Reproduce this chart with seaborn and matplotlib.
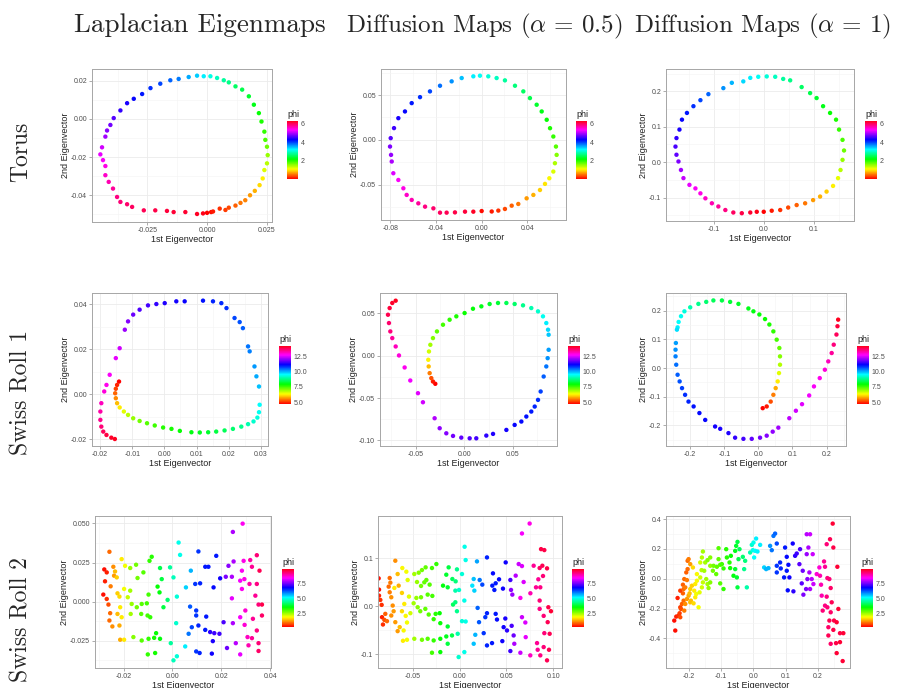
import matplotlib
matplotlib.use("Agg")
import numpy as np
import pandas as pd
import matplotlib.pyplot as plt
import seaborn as sns
from matplotlib.ticker import AutoMinorLocator, FixedLocator, FormatStrFormatter
from matplotlib.colors import Normalize
from matplotlib.cm import ScalarMappable

# ======================================================
# DATA  (x = 1st eigenvector, y = 2nd eigenvector, phi)
# ======================================================

torus_le = [
    (-0.0042, -0.0498, 6.2), (-0.0017, -0.0495, 6.25), (0.0, -0.0492, 0.05), (0.0017, -0.0488, 0.1),
    (0.0025, -0.0485, 0.15), (0.0053, -0.047, 0.25), (0.0077, -0.0477, 0.3), (0.0091, -0.0465, 0.35),
    (0.0119, -0.0454, 0.45), (0.014, -0.044, 0.55), (0.016, -0.0426, 0.6), (0.018, -0.040, 0.7),
    (0.020, -0.0377, 0.8), (0.022, -0.0347, 0.95), (0.0233, -0.0312, 1.05), (0.024, -0.0268, 1.25),
    (0.0251, -0.0233, 1.4), (0.0254, -0.019, 1.55), (0.0251, -0.0146, 1.7), (0.0244, -0.011, 1.85),
    (0.024, -0.0067, 1.95), (0.0228, -0.0014, 2.05), (0.0217, 0.003, 2.15), (0.0196, 0.0074, 2.25),
    (0.0175, 0.0118, 2.35), (0.0147, 0.0153, 2.45), (0.0119, 0.017, 2.55), (0.0091, 0.0191, 2.7),
    (0.007, 0.0202, 2.8), (0.0042, 0.0214, 2.95), (0.0014, 0.0223, 3.1), (-0.0014, 0.0223, 3.25),
    (-0.0042, 0.0226, 3.4), (-0.0077, 0.0219, 3.55), (-0.0119, 0.0209, 3.75), (-0.0154, 0.0202, 3.85),
    (-0.0196, 0.0184, 3.95), (-0.0237, 0.0161, 4.05), (-0.0272, 0.013, 4.15), (-0.0307, 0.0105, 4.25),
    (-0.0335, 0.0082, 4.35), (-0.0363, 0.0044, 4.45), (-0.0391, 0.0004, 4.6), (-0.0405, -0.0032, 4.7),
    (-0.0419, -0.0061, 4.8), (-0.0426, -0.0093, 4.9), (-0.044, -0.0149, 5.1), (-0.0447, -0.0186, 5.2),
    (-0.0436, -0.0216, 5.3), (-0.0426, -0.0247, 5.4), (-0.0426, -0.0295, 5.5), (-0.0412, -0.033, 5.6),
    (-0.0394, -0.0365, 5.7), (-0.0377, -0.0409, 5.8), (-0.0363, -0.0435, 5.85), (-0.0335, -0.0447, 5.9),
    (-0.0314, -0.0461, 5.95), (-0.0265, -0.0479, 6.0), (-0.0217, -0.0479, 6.05), (-0.0168, -0.0482, 6.1),
    (-0.014, -0.0488, 6.12), (-0.0091, -0.0488, 6.15),
]

torus_dm05 = [
    (0.0, -0.0795, 0.1), (0.0088, -0.080, 0.15), (0.0146, -0.079, 0.25), (0.0204, -0.0772, 0.35),
    (0.0263, -0.0735, 0.45), (0.0321, -0.0716, 0.55), (0.0394, -0.0653, 0.7), (0.0453, -0.0615, 0.8),
    (0.0511, -0.056, 0.9), (0.0555, -0.0492, 1.0), (0.0593, -0.0429, 1.1), (0.0628, -0.0354, 1.25),
    (0.0642, -0.0261, 1.45), (0.0657, -0.0168, 1.6), (0.0651, -0.0075, 1.8), (0.0628, 0.0037, 1.95),
    (0.0599, 0.013, 2.05), (0.057, 0.0224, 2.15), (0.0526, 0.0317, 2.25), (0.0482, 0.0392, 2.35),
    (0.0423, 0.0466, 2.45), (0.0365, 0.0541, 2.55), (0.0292, 0.0604, 2.65), (0.0204, 0.0664, 2.8),
    (0.0131, 0.069, 2.95), (0.0058, 0.0709, 3.05), (-0.0015, 0.0716, 3.15), (-0.0073, 0.0709, 3.25),
    (-0.0175, 0.069, 3.45), (-0.0263, 0.0653, 3.65), (-0.0365, 0.0604, 3.8), (-0.0453, 0.0541, 3.95),
    (-0.054, 0.0477, 4.05), (-0.0613, 0.041, 4.15), (-0.0672, 0.0317, 4.25), (-0.073, 0.0242, 4.35),
    (-0.0768, 0.0131, 4.5), (-0.0797, 0.0019, 4.6), (-0.0803, -0.0075, 4.75), (-0.0794, -0.0168, 4.85),
    (-0.0788, -0.0242, 4.95), (-0.0774, -0.0373, 5.15), (-0.073, -0.0448, 5.3), (-0.0686, -0.0541, 5.4),
    (-0.0657, -0.0615, 5.5), (-0.0613, -0.0671, 5.6), (-0.0555, -0.0709, 5.7), (-0.0496, -0.0746, 5.8),
    (-0.0423, -0.0765, 5.9), (-0.0365, -0.0813, 5.95), (-0.0307, -0.0813, 6.0), (-0.0234, -0.081, 6.05),
    (-0.0146, -0.0802, 6.1), (-0.0073, -0.0802, 6.2),
]

torus_dm1 = [
    (0.0, -0.14, 0.05), (0.016, -0.137, 0.15), (0.033, -0.135, 0.25), (0.049, -0.128, 0.35),
    (0.066, -0.121, 0.45), (0.083, -0.116, 0.55), (0.099, -0.107, 0.7), (0.113, -0.097, 0.8),
    (0.126, -0.083, 0.9), (0.139, -0.067, 1.05), (0.149, -0.045, 1.2), (0.154, -0.022, 1.4),
    (0.158, 0.0066, 1.55), (0.161, 0.033, 1.7), (0.158, 0.063, 1.85), (0.151, 0.092, 1.95),
    (0.145, 0.12, 2.05), (0.133, 0.139, 2.15), (0.119, 0.158, 2.25), (0.106, 0.181, 2.35),
    (0.093, 0.195, 2.45), (0.076, 0.212, 2.55), (0.053, 0.231, 2.7), (0.039, 0.235, 2.8),
    (0.023, 0.241, 2.95), (0.006, 0.242, 3.05), (-0.011, 0.241, 3.15), (-0.027, 0.238, 3.25),
    (-0.041, 0.228, 3.35), (-0.064, 0.224, 3.5), (-0.081, 0.209, 3.65), (-0.111, 0.192, 3.85),
    (-0.127, 0.175, 3.95), (-0.141, 0.158, 4.05), (-0.154, 0.139, 4.15), (-0.164, 0.12, 4.25),
    (-0.169, 0.092, 4.35), (-0.175, 0.068, 4.45), (-0.177, 0.044, 4.55), (-0.175, 0.021, 4.65),
    (-0.171, 0.002, 4.75), (-0.166, -0.022, 4.9), (-0.161, -0.045, 5.05), (-0.149, -0.064, 5.2),
    (-0.137, -0.074, 5.3), (-0.127, -0.088, 5.4), (-0.117, -0.102, 5.5), (-0.104, -0.116, 5.6),
    (-0.091, -0.125, 5.7), (-0.077, -0.135, 5.8), (-0.061, -0.142, 5.95), (-0.044, -0.144, 6.05),
    (-0.027, -0.142, 6.15), (-0.014, -0.14, 6.25),
]

roll1_le = [
    (-0.0141, 0.0056, 4.75), (-0.0147, 0.0041, 4.95), (-0.0151, 0.0024, 5.15), (-0.0153, 0.0004, 5.35),
    (-0.0151, -0.0018, 5.6), (-0.0147, -0.004, 5.9), (-0.0139, -0.0059, 6.2), (-0.0126, -0.0077, 6.5),
    (-0.0113, -0.0092, 6.75), (-0.0097, -0.0107, 7.0), (-0.0077, -0.0119, 7.2), (-0.0054, -0.0129, 7.4),
    (-0.003, -0.0139, 7.55), (-0.0004, -0.0148, 7.7), (0.0022, -0.0154, 7.8), (0.0048, -0.0163, 7.9),
    (0.0084, -0.0169, 8.0), (0.011, -0.017, 8.1), (0.0136, -0.0169, 8.2), (0.0161, -0.0166, 8.3),
    (0.0187, -0.0161, 8.45), (0.0213, -0.0154, 8.6), (0.0239, -0.0144, 8.8), (0.026, -0.0133, 9.0),
    (0.0277, -0.0121, 9.2), (0.0289, -0.0104, 9.3), (0.0294, -0.008, 9.4), (0.0296, -0.0047, 9.5),
    (0.0294, 0.0034, 9.9), (0.0286, 0.0079, 10.05), (0.028, 0.0123, 10.15), (0.0265, 0.019, 10.3),
    (0.026, 0.0212, 10.35), (0.0244, 0.0293, 10.5), (0.0234, 0.032, 10.6), (0.0218, 0.0338, 10.65),
    (0.0193, 0.0382, 10.8), (0.0177, 0.0404, 10.85), (0.0151, 0.0412, 10.9), (0.012, 0.0415, 11.0),
    (0.0063, 0.0412, 11.15), (0.0037, 0.0412, 11.2), (0.0001, 0.0404, 11.3), (-0.0025, 0.04, 11.4),
    (-0.0051, 0.0394, 11.5), (-0.0077, 0.0375, 11.6), (-0.0097, 0.0353, 11.75), (-0.0113, 0.0323, 11.9),
    (-0.0123, 0.0286, 12.05), (-0.0139, 0.0204, 12.4), (-0.0151, 0.016, 12.55), (-0.017, 0.0086, 12.7),
    (-0.018, 0.0041, 12.8), (-0.0187, 0.0012, 12.9), (-0.0196, -0.004, 13.1), (-0.0199, -0.0077, 13.25),
    (-0.0199, -0.0114, 13.4), (-0.0196, -0.0144, 13.55), (-0.019, -0.0166, 13.7), (-0.018, -0.0181, 13.85),
    (-0.0165, -0.0193, 14.0), (-0.0154, -0.0199, 14.1),
]

roll1_dm05 = [
    (-0.0298, -0.0331, 4.75), (-0.0322, -0.0304, 4.9), (-0.0339, -0.0264, 5.2), (-0.0356, -0.0205, 5.5),
    (-0.0366, -0.0126, 5.9), (-0.037, -0.0047, 6.3), (-0.0363, 0.0051, 6.6), (-0.0349, 0.013, 6.9),
    (-0.0322, 0.0209, 7.1), (-0.0281, 0.0288, 7.3), (-0.0219, 0.0367, 7.5), (-0.0151, 0.0426, 7.65),
    (-0.0082, 0.0466, 7.75), (0.0003, 0.0505, 7.85), (0.0089, 0.0556, 7.95), (0.0175, 0.0584, 8.05),
    (0.026, 0.0612, 8.15), (0.0346, 0.0624, 8.25), (0.0432, 0.0624, 8.4), (0.0517, 0.0612, 8.55),
    (0.0603, 0.0596, 8.8), (0.0688, 0.0564, 9.0), (0.0757, 0.0525, 9.2), (0.0808, 0.0466, 9.4),
    (0.0842, 0.0387, 9.6), (0.086, 0.0308, 9.75), (0.0866, 0.0249, 9.85), (0.0866, 0.0071, 10.1),
    (0.0856, -0.0028, 10.2), (0.0842, -0.0126, 10.35), (0.0815, -0.0245, 10.5), (0.0784, -0.0422, 10.7),
    (0.0757, -0.0521, 10.8), (0.0723, -0.06, 10.9), (0.0688, -0.0659, 10.95), (0.0637, -0.0718, 11.0),
    (0.0586, -0.0777, 11.05), (0.0517, -0.0817, 11.1), (0.0432, -0.0876, 11.2), (0.0295, -0.0923, 11.3),
    (0.0226, -0.0943, 11.35), (0.0123, -0.0975, 11.5), (0.0055, -0.0975, 11.6), (-0.0031, -0.0967, 11.7),
    (-0.0116, -0.0947, 11.8), (-0.0185, -0.0916, 11.9), (-0.0253, -0.0856, 12.0), (-0.0305, -0.0738, 12.2),
    (-0.0425, -0.0549, 12.4), (-0.0476, -0.0442, 12.5), (-0.0555, -0.0292, 12.6), (-0.0613, -0.0138, 12.75),
    (-0.0671, 0.0004, 12.9), (-0.0705, 0.011, 13.1), (-0.074, 0.0209, 13.3), (-0.076, 0.0288, 13.5),
    (-0.0774, 0.0387, 13.6), (-0.0784, 0.0485, 13.8), (-0.0767, 0.0564, 13.9), (-0.074, 0.0624, 14.0),
    (-0.0705, 0.0651, 14.1),
]

roll1_dm1 = [
    (0.0127, -0.14, 4.75), (0.0244, -0.134, 4.9), (0.0361, -0.117, 5.2), (0.0439, -0.0933, 5.5),
    (0.0507, -0.07, 5.8), (0.0566, -0.0466, 6.2), (0.0605, -0.0175, 6.5), (0.0634, 0.0117, 6.8),
    (0.0634, 0.0408, 7.1), (0.0615, 0.07, 7.3), (0.0537, 0.0991, 7.5), (0.0439, 0.128, 7.65),
    (0.0322, 0.152, 7.75), (0.0195, 0.171, 7.85), (0.0029, 0.187, 7.95), (-0.0146, 0.198, 8.0),
    (-0.0293, 0.208, 8.05), (-0.0585, 0.224, 8.15), (-0.0829, 0.231, 8.25), (-0.107, 0.236, 8.35),
    (-0.132, 0.236, 8.45), (-0.153, 0.231, 8.6), (-0.176, 0.224, 8.8), (-0.2, 0.212, 9.0),
    (-0.217, 0.198, 9.3), (-0.227, 0.181, 9.4), (-0.234, 0.161, 9.5), (-0.237, 0.142, 9.6),
    (-0.239, 0.134, 9.7), (-0.242, 0.0875, 10.1), (-0.243, 0.0641, 10.2), (-0.243, 0.0408, 10.3),
    (-0.241, 0.0117, 10.4), (-0.237, -0.0233, 10.5), (-0.231, -0.0466, 10.6), (-0.224, -0.07, 10.7),
    (-0.215, -0.0933, 10.8), (-0.205, -0.117, 10.9), (-0.19, -0.134, 11.0), (-0.173, -0.157, 11.05),
    (-0.156, -0.181, 11.1), (-0.127, -0.204, 11.2), (-0.112, -0.212, 11.25), (-0.0878, -0.227, 11.3),
    (-0.0683, -0.243, 11.4), (-0.0439, -0.247, 11.5), (-0.0195, -0.247, 11.7), (0.0049, -0.243, 11.8),
    (0.0244, -0.236, 11.9), (0.042, -0.222, 12.0), (0.0585, -0.208, 12.1), (0.0907, -0.175, 12.3),
    (0.11, -0.149, 12.4), (0.128, -0.126, 12.5), (0.149, -0.0956, 12.6), (0.163, -0.0641, 12.7),
    (0.18, -0.035, 12.8), (0.195, -0.0058, 12.9), (0.205, 0.0233, 13.1), (0.215, 0.0525, 13.3),
    (0.221, 0.0816, 13.5), (0.229, 0.117, 13.7), (0.232, 0.146, 13.9), (0.234, 0.169, 14.1),
]

roll2_le = [
    (-0.0279, 0.0206, 0.4), (-0.0269, 0.0187, 0.5), (-0.0276, 0.0130, 0.5), (-0.0283, 0.0045, 0.4),
    (-0.0269, 0.0017, 0.6), (-0.0262, -0.0019, 0.8), (-0.0255, -0.0074, 1.0), (-0.0258, -0.0121, 1.0),
    (-0.0246, -0.0159, 1.2), (-0.0258, 0.0319, 1.0), (-0.0253, 0.0098, 1.1), (-0.0242, 0.0223, 1.2),
    (-0.0239, 0.0166, 1.3), (-0.0235, 0.0193, 1.5), (-0.0228, 0.0155, 1.6), (-0.0225, 0.0053, 1.6),
    (-0.0217, 0.0032, 1.7), (-0.0214, -0.0036, 1.8), (-0.0225, -0.0079, 1.5), (-0.0208, -0.0100, 1.8),
    (-0.0217, -0.0153, 1.4), (-0.0214, -0.0244, 1.4), (-0.0198, -0.0244, 1.8), (-0.0208, 0.0272, 1.8),
    (-0.0194, 0.0229, 2.0), (-0.0198, 0.0081, 2.0), (-0.0173, 0.0215, 2.6), (-0.0149, 0.0236, 2.8),
    (-0.0143, 0.0151, 2.8), (-0.0173, 0.0070, 2.5), (-0.0183, 0.0028, 2.3), (-0.0167, -0.0015, 2.6),
    (-0.0171, -0.0079, 2.5), (-0.0146, -0.0036, 2.8), (-0.0126, -0.0015, 3.0), (-0.0128, -0.0079, 3.0),
    (-0.0102, -0.0089, 3.1), (-0.0091, -0.0100, 3.2), (-0.0105, -0.0011, 3.1), (-0.0098, 0.0045, 3.1),
    (-0.0119, 0.0187, 3.0), (-0.0094, 0.0261, 3.2), (-0.0085, 0.0287, 3.3), (-0.0160, -0.0227, 2.7),
    (-0.0126, -0.0249, 3.0), (-0.0098, -0.0238, 3.2), (-0.0075, -0.0232, 3.4), (-0.0051, -0.0238, 3.6),
    (-0.0067, -0.0202, 3.5), (-0.0101, -0.0338, 3.2), (-0.0071, -0.0329, 3.4), (-0.0053, 0.0059, 3.6),
    (-0.0061, 0.0096, 3.5), (-0.0044, 0.0144, 3.9), (-0.0051, 0.0215, 4.0), (-0.0037, -0.0036, 3.9),
    (-0.0020, 0.0011, 4.2), (-0.0010, 0.0219, 4.5), (0.0004, 0.0155, 4.7), (0.0025, 0.0378, 5.0),
    (0.0031, 0.0299, 5.0), (0.0018, 0.0032, 4.9), (0.0015, -0.0138, 4.8), (-0.0007, -0.0266, 4.5),
    (0.0004, -0.0376, 4.7), (0.0018, -0.0350, 4.9), (0.0052, -0.0287, 5.2), (0.0055, 0.0091, 5.4),
    (0.0075, 0.0198, 5.6), (0.0106, 0.0321, 6.4), (0.0093, 0.0113, 6.4), (0.0113, 0.0117, 6.5),
    (0.0134, 0.0223, 6.6), (0.0147, 0.0223, 6.6), (0.0168, 0.0091, 6.7), (0.0179, 0.0293, 6.6),
    (0.0195, 0.0149, 6.8), (0.0072, -0.0032, 6.2), (0.0097, -0.0057, 6.4), (0.0097, -0.0089, 6.4),
    (0.0106, -0.0153, 6.5), (0.0079, -0.0164, 6.3), (0.0066, -0.0206, 6.0), (0.0134, -0.0181, 6.6),
    (0.0138, -0.0096, 6.6), (0.0154, -0.0195, 7.0), (0.0171, -0.0202, 7.1), (0.0192, -0.0206, 7.1),
    (0.0165, -0.0253, 6.9), (0.0161, -0.0333, 6.8), (0.0097, -0.0319, 6.4), (0.0111, -0.0329, 6.5),
    (0.0209, -0.0132, 7.2), (0.0223, -0.0297, 7.4), (0.0218, 0.0159, 7.5), (0.0229, 0.0229, 7.6),
    (0.0250, 0.0257, 7.8), (0.0243, 0.0159, 7.8), (0.0247, 0.0446, 7.8), (0.0247, -0.0138, 7.8),
    (0.0259, -0.0266, 7.9), (0.0277, -0.0338, 8.2), (0.0243, 0.0021, 8.2), (0.0287, 0.0499, 8.4),
    (0.0291, 0.0261, 8.5), (0.0284, 0.0198, 8.4), (0.0294, 0.0144, 8.5), (0.0277, 0.0134, 8.3),
    (0.0284, 0.0081, 8.4), (0.0318, 0.0266, 8.9), (0.0345, 0.0297, 9.2), (0.0325, 0.0223, 9.0),
    (0.0356, 0.0198, 9.4), (0.0315, 0.0113, 8.9), (0.0345, 0.0113, 9.1), (0.0339, 0.0038, 9.0),
    (0.0366, -0.0019, 9.5), (0.0352, -0.0019, 9.2), (0.0329, -0.0110, 9.0), (0.0366, -0.0089, 9.3),
    (0.0298, -0.0057, 8.6), (0.0277, -0.0100, 8.3), (0.0345, -0.0185, 9.1), (0.0325, -0.0234, 9.0),
    (0.0352, -0.0266, 9.2), (0.0352, -0.0316, 9.3), (0.0311, -0.0280, 8.8), (0.0307, -0.0227, 8.7),
    (0.0295, -0.0149, 8.6),
]

roll2_dm05 = [
    (-0.0866, 0.0581, 0.4), (-0.0862, 0.0346, 0.4), (-0.0862, 0.0221, 0.5), (-0.0848, 0.0131, 0.6),
    (-0.0834, 0.0028, 0.6), (-0.083, -0.0228, 0.5), (-0.082, -0.0381, 0.6), (-0.0805, -0.0284, 0.8),
    (-0.0795, -0.0159, 0.9), (-0.0777, -0.0311, 1.0), (-0.0748, 0.0588, 1.0), (-0.0741, 0.0491, 1.1),
    (-0.0759, 0.0408, 1.0), (-0.0748, 0.0291, 1.1), (-0.0731, 0.0187, 1.2), (-0.0716, 0.0014, 1.2),
    (-0.0706, -0.0104, 1.3), (-0.0731, -0.0194, 1.2), (-0.0688, -0.0332, 1.3), (-0.0663, -0.0519, 1.3),
    (-0.0641, -0.0436, 1.5), (-0.0688, 0.0948, 1.2), (-0.0663, 0.0671, 1.5), (-0.0652, 0.0429, 1.4),
    (-0.0617, 0.0277, 1.6), (-0.0698, 0.0381, 1.8), (-0.0592, 0.0048, 1.8), (-0.0617, -0.0104, 1.7),
    (-0.0577, -0.0201, 1.9), (-0.0563, -0.0339, 2.0), (-0.0599, -0.0505, 1.9), (-0.0606, -0.072, 1.8),
    (-0.0563, -0.0699, 2.0), (-0.0613, 0.0796, 1.9), (-0.057, 0.072, 2.0), (-0.0556, 0.0547, 2.1),
    (-0.0542, 0.0201, 2.1), (-0.0527, -0.0145, 2.2), (-0.0485, 0.0671, 2.5), (-0.0438, 0.0699, 2.7),
    (-0.0456, 0.0505, 2.6), (-0.0413, 0.0422, 2.8), (-0.0378, 0.0498, 2.9), (-0.0403, 0.0754, 2.8),
    (-0.0364, 0.081, 2.9), (-0.0249, 0.0879, 3.2), (-0.0296, 0.0796, 3.1), (-0.0356, 0.0547, 2.9),
    (-0.0321, 0.045, 3.0), (-0.0292, 0.0215, 3.1), (-0.0342, 0.0242, 3.0), (-0.0413, 0.0187, 2.8),
    (-0.0463, 0.0173, 2.6), (-0.0492, 0.0062, 2.5), (-0.0449, -0.0021, 2.7), (-0.0421, -0.0104, 2.8),
    (-0.0367, -0.0055, 2.9), (-0.0331, -0.0173, 3.0), (-0.0278, -0.027, 3.2), (-0.0257, -0.0159, 3.3),
    (-0.0214, -0.0145, 3.5), (-0.0207, -0.0353, 3.5), (-0.0128, -0.0422, 3.8), (-0.0178, 0.0429, 3.6),
    (-0.0143, 0.0657, 3.8), (-0.0128, 0.0394, 3.8), (-0.0118, 0.081, 3.9), (-0.0078, 0.0567, 4.1),
    (-0.0043, 0.0519, 4.3), (-0.0029, 0.0768, 4.4), (-0.0071, 0.0035, 4.1), (-0.0046, 0.0083, 4.3),
    (-0.0029, -0.0104, 4.4), (-0.0485, -0.0678, 2.5), (-0.0403, -0.0699, 2.8), (-0.0342, -0.0678, 3.0),
    (-0.0278, -0.0713, 3.2), (-0.0207, -0.0678, 3.5), (-0.0143, -0.063, 3.7), (-0.0082, -0.0609, 4.0),
    (-0.0296, -0.0969, 3.1), (-0.0207, -0.0955, 3.5), (-0.0128, -0.0782, 3.9), (-0.0021, -0.0574, 4.6),
    (-0.0046, 0.0325, 4.6), (-0.0007, 0.0339, 4.8), (0.0025, 0.0671, 4.9), (0.0064, 0.0962, 5.0),
    (0.0053, 0.1239, 5.0), (-0.0011, -0.1059, 4.8), (0.005, -0.0955, 5.0), (0.0064, -0.0318, 5.0),
    (0.0025, -0.0311, 4.9), (0.005, 0.0118, 5.0), (0.0135, 0.0429, 5.3), (0.0157, 0.0325, 5.4),
    (0.0185, 0.0934, 5.7), (0.015, 0.0567, 5.5), (0.0167, -0.0595, 5.6), (0.015, -0.0782, 5.5),
    (0.0214, 0.0547, 6.0), (0.0242, 0.045, 6.3), (0.0292, 0.1017, 6.5), (0.0349, 0.0429, 6.6),
    (0.0371, 0.0339, 6.6), (0.0385, 0.0478, 6.6), (0.0421, 0.0561, 6.7), (0.0463, 0.0367, 6.8),
    (0.0492, 0.0913, 6.8), (0.0542, 0.0547, 7.1), (0.0356, 0.0685, 6.7), (0.0192, -0.0035, 6.1),
    (0.0207, -0.0332, 6.2), (0.0257, -0.0561, 6.4), (0.0274, -0.0228, 6.4), (0.0292, -0.0145, 6.5),
    (0.0385, -0.0159, 6.6), (0.0399, -0.0277, 6.7), (0.047, -0.0436, 6.8), (0.0488, -0.0256, 6.9),
    (0.0506, -0.0505, 7.0), (0.0556, -0.0408, 7.2), (0.0577, -0.0609, 7.4), (0.0456, -0.0727, 6.8),
    (0.0542, -0.0934, 7.1), (0.0292, -0.0817, 6.5), (0.0346, -0.0768, 6.6), (0.0549, 0.0339, 7.6),
    (0.0563, 0.0242, 7.7), (0.0599, 0.0637, 7.9), (0.0631, 0.0879, 8.0), (0.0666, 0.0837, 8.1),
    (0.0684, 0.0505, 8.1), (0.0702, -0.0339, 8.1), (0.0666, -0.0228, 8.0), (0.0706, -0.0644, 8.2),
    (0.0584, -0.0782, 7.8), (0.0649, -0.0969, 8.0), (0.0666, 0.1516, 8.3), (0.0748, 0.1723, 8.5),
    (0.0649, 0.0173, 8.4), (0.0791, 0.0844, 9.0), (0.0855, 0.0796, 9.3), (0.0884, 0.0844, 9.4),
    (0.0891, 0.063, 9.2), (0.0841, 0.0561, 9.0), (0.0816, 0.0394, 9.0), (0.0862, 0.0394, 9.1),
    (0.087, 0.119, 9.5), (0.0905, 0.117, 9.5), (0.0934, 0.0789, 9.5), (0.0855, 0.0118, 9.2),
    (0.0855, -0.0055, 9.1), (0.0948, -0.0021, 9.5), (0.0976, -0.0104, 9.6), (0.0898, -0.0201, 9.2),
    (0.0941, -0.0332, 9.4), (0.0962, -0.0574, 9.4), (0.0905, -0.0561, 9.2), (0.0834, -0.0907, 9.0),
    (0.0898, -0.0851, 9.2), (0.0955, -0.0907, 9.4), (0.0862, -0.1024, 9.1), (0.0934, -0.1128, 9.4),
    (0.0755, -0.1024, 8.7), (0.0827, -0.0768, 9.0), (0.0756, 0.027, 8.8),
]

roll2_dm1 = [
    (-0.2423, -0.3476, 0.4), (-0.2454, -0.2808, 0.4), (-0.2392, -0.254, 0.5), (-0.232, -0.2473, 0.6),
    (-0.2351, -0.1292, 0.5), (-0.2268, -0.1916, 0.7), (-0.2247, -0.2027, 0.8), (-0.2289, -0.2317, 0.7),
    (-0.2216, -0.1693, 0.9), (-0.2165, -0.147, 1.0), (-0.2186, -0.098, 0.9), (-0.2268, -0.0802, 0.7),
    (-0.2165, -0.0691, 1.0), (-0.2186, -0.0401, 0.9), (-0.2113, -0.0579, 1.1), (-0.2144, -0.0022, 1.0),
    (-0.2062, -0.0089, 1.1), (-0.2082, 0.0423, 0.9), (-0.2041, 0.0646, 1.0), (-0.2041, 0.1203, 1.0),
    (-0.201, 0.1315, 1.1), (-0.1959, 0.098, 1.3), (-0.2268, -0.2584, 0.8), (-0.2144, -0.2139, 1.1),
    (-0.2113, -0.1693, 1.2), (-0.2062, -0.1359, 1.3), (-0.201, -0.1136, 1.4), (-0.1959, -0.1582, 1.5),
    (-0.1979, -0.098, 1.5), (-0.1959, -0.0691, 1.6), (-0.1907, -0.0468, 1.6), (-0.1938, -0.147, 1.5),
    (-0.1856, -0.1649, 1.7), (-0.1804, -0.1248, 1.8), (-0.1835, -0.0802, 1.8), (-0.1804, -0.0356, 1.8),
    (-0.1876, 0.0758, 1.7), (-0.1753, -0.0134, 1.9), (-0.1753, 0.0312, 1.9), (-0.1701, -0.1916, 2.0),
    (-0.1773, -0.1025, 2.0), (-0.167, -0.0913, 2.1), (-0.1598, -0.0579, 2.2), (-0.1567, -0.0245, 2.3),
    (-0.1649, 0.0089, 2.2), (-0.1608, 0.0579, 2.4), (-0.1649, 0.1092, 2.2), (-0.1598, 0.1426, 2.4),
    (-0.1567, 0.1827, 2.5), (-0.1526, 0.0535, 2.5), (-0.1495, 0.1092, 2.5), (-0.1423, 0.1248, 2.7),
    (-0.134, 0.1426, 2.7), (-0.134, 0.0869, 2.6), (-0.1464, -0.0022, 2.5), (-0.1423, -0.0356, 2.5),
    (-0.1392, -0.0624, 2.6), (-0.134, -0.0245, 2.7), (-0.1258, 0.0535, 2.8), (-0.1237, 0.0869, 2.8),
    (-0.1155, 0.0312, 2.9), (-0.1134, 0.0802, 2.9), (-0.1082, 0.1315, 2.9), (-0.1031, 0.0936, 3.0),
    (-0.1082, 0.205, 3.0), (-0.1031, -0.0312, 3.0), (-0.0928, -0.0691, 3.2), (-0.0979, 0.098, 3.1),
    (-0.0928, 0.0691, 3.2), (-0.0845, 0.1983, 3.3), (-0.0825, 0.1426, 3.3), (-0.0742, 0.1092, 3.3),
    (-0.0722, 0.0713, 3.4), (-0.0701, 0.1537, 3.5), (-0.0567, 0.1872, 3.7), (-0.0536, 0.2206, 3.8),
    (-0.0495, 0.2473, 3.9), (-0.0619, 0.0201, 3.6), (-0.0515, 0.0089, 3.8), (-0.0495, -0.0579, 3.9),
    (-0.0567, 0.0646, 3.8), (-0.0464, 0.1315, 4.0), (-0.0433, 0.1983, 4.1), (-0.033, 0.147, 4.2),
    (-0.0258, 0.1203, 4.3), (-0.0289, 0.0646, 4.4), (-0.0206, -0.0579, 4.6), (-0.0103, 0.176, 4.6),
    (-0.0052, 0.2273, 4.8), (0.0, 0.2429, 5.0), (-0.0021, 0.1916, 5.0), (0.0052, 0.1872, 5.1),
    (0.0082, 0.2696, 5.2), (0.0124, 0.1827, 5.2), (0.0021, 0.1426, 5.1), (0.0206, 0.2273, 5.2),
    (0.033, 0.0758, 5.4), (0.0392, 0.0646, 5.6), (0.0464, 0.0713, 5.6), (0.0515, 0.2206, 5.8),
    (0.0567, 0.1916, 6.0), (0.0619, 0.2874, 6.0), (0.067, 0.303, 6.1), (0.0722, 0.2362, 6.3),
    (0.0722, 0.0869, 6.4), (0.0722, 0.0423, 6.4), (0.0825, 0.1092, 6.5), (0.0845, 0.0691, 6.5),
    (0.0948, 0.0089, 6.6), (0.1031, 0.0535, 6.6), (0.1113, 0.0089, 6.8), (0.0979, 0.2094, 6.6),
    (0.1031, 0.147, 6.7), (0.1082, 0.0936, 6.7), (0.1216, 0.2362, 6.8), (0.1289, 0.1537, 7.0),
    (0.134, 0.1693, 7.1), (0.1443, 0.1983, 7.2), (0.1423, 0.098, 7.3), (0.1526, 0.0535, 7.4),
    (0.1062, -0.078, 6.7), (0.1237, -0.0847, 7.0), (0.1495, -0.0312, 7.3), (0.1546, -0.107, 7.5),
    (0.1629, -0.0691, 7.5), (0.167, -0.0022, 7.6), (0.1732, 0.0423, 7.8), (0.1804, -0.0022, 7.9),
    (0.1856, -0.0356, 8.0), (0.1753, -0.0691, 7.8), (0.1649, 0.1649, 7.7), (0.1701, 0.2094, 7.8),
    (0.1649, 0.2986, 7.9), (0.1753, 0.2986, 8.0), (0.1835, 0.1649, 8.0), (0.1959, 0.0312, 8.6),
    (0.2062, 0.0201, 8.8), (0.2093, -0.0401, 8.8), (0.2113, -0.1136, 8.8), (0.2041, 0.0758, 8.6),
    (0.2186, 0.1159, 9.0), (0.2216, 0.0802, 9.0), (0.2289, 0.0045, 9.1), (0.2351, -0.0022, 9.2),
    (0.2392, -0.0624, 9.3), (0.2268, -0.1203, 9.1), (0.2216, -0.1805, 9.1), (0.2289, -0.1916, 9.2),
    (0.2423, -0.1582, 9.4), (0.2392, -0.225, 9.3), (0.2351, -0.2807, 9.4), (0.2495, -0.2807, 9.5),
    (0.2577, -0.2919, 9.6), (0.268, -0.3654, 9.5), (0.2474, -0.3431, 9.5), (0.232, -0.381, 9.4),
    (0.2392, -0.4367, 9.3), (0.2557, -0.4322, 9.5), (0.268, -0.4255, 9.6), (0.2577, -0.4991, 9.6),
    (0.2763, -0.5525, 9.6), (0.2784, -0.3654, 9.6), (0.2629, -0.2027, 9.6), (0.232, -0.3253, 9.3),
    (0.2268, 0.2317, 9.2), (0.2371, 0.2651, 9.4), (0.2454, 0.3699, 9.6), (0.2598, 0.0802, 9.6),
    (0.2144, -0.2139, 9.2), (0.2474, 0.2094, 9.5),
]

col_titles = [r"Laplacian Eigenmaps", r"Diffusion Maps ($\alpha\,{=}\,0.5$)", r"Diffusion Maps ($\alpha\,{=}\,1$)"]
col_sizes = [19.5, 18, 18]
row_titles = ["Torus", "Swiss Roll 1", "Swiss Roll 2"]

# phi colour range and colourbar breaks per row
phi_limits = [(0.05, 6.25), (4.72, 14.14), (0.3, 9.8)]
phi_breaks = [[2, 4, 6], [5.0, 7.5, 10.0, 12.5], [2.5, 5.0, 7.5]]
phi_fmt = ["%g", "%.1f", "%.1f"]

# axis limits, breaks and label format per panel (row-major)
x_limits = [(-0.0482, 0.0272), (-0.0882, 0.0739), (-0.196, 0.181),
            (-0.0225, 0.0322), (-0.0866, 0.0952), (-0.271, 0.257),
            (-0.0317, 0.0403), (-0.0873, 0.1094), (-0.271, 0.299)]
y_limits = [(-0.054, 0.0261), (-0.0895, 0.0791), (-0.166, 0.263),
            (-0.023, 0.0449), (-0.1066, 0.0742), (-0.272, 0.262),
            (-0.0425, 0.0548), (-0.1287, 0.188), (-0.599, 0.421)]
x_breaks = [[-0.025, 0, 0.025], [-0.08, -0.04, 0, 0.04], [-0.1, 0, 0.1],
            [-0.02, -0.01, 0, 0.01, 0.02, 0.03], [-0.05, 0, 0.05], [-0.2, -0.1, 0, 0.1, 0.2],
            [-0.02, 0, 0.02, 0.04], [-0.05, 0, 0.05, 0.10], [-0.2, -0.1, 0, 0.1, 0.2]]
y_breaks = [[-0.04, -0.02, 0, 0.02], [-0.05, 0, 0.05], [-0.1, 0, 0.1, 0.2],
            [-0.02, 0, 0.02, 0.04], [-0.10, -0.05, 0, 0.05], [-0.2, -0.1, 0, 0.1, 0.2],
            [-0.025, 0, 0.025, 0.05], [-0.1, 0, 0.1], [-0.4, -0.2, 0, 0.2, 0.4]]
x_fmt = ["%.3f", "%.2f", "%.1f", "%.2f", "%.2f", "%.1f", "%.2f", "%.2f", "%.1f"]
y_fmt = ["%.2f", "%.2f", "%.1f", "%.2f", "%.2f", "%.1f", "%.3f", "%.1f", "%.1f"]

datasets = [torus_le, torus_dm05, torus_dm1,
            roll1_le, roll1_dm05, roll1_dm1,
            roll2_le, roll2_dm05, roll2_dm1]

# ======================================================
# LAYOUT (pixel boxes: left, top, right, bottom)
# ======================================================
W, H = 901, 688
axes_px = [(92, 69, 272, 222), (381, 69, 566, 220), (666, 69, 854, 221),
           (92, 293, 268, 446), (380, 293, 557, 446), (666, 293, 846, 446),
           (95, 516, 271, 668), (378, 516, 562, 668), (666, 516, 850, 668)]
cbar_px = [(287, 121, 298, 179), (576, 121, 587, 179), (865, 121, 877, 179),
           (279, 346, 291, 404), (568, 346, 580, 404), (857, 346, 869, 404),
           (282, 569, 294, 627), (572, 569, 584, 627), (861, 569, 873, 627)]


def box(l, t, r, b):
    return [l / W, 1 - b / H, (r - l) / W, (b - t) / H]


sns.set_theme(style="whitegrid")
plt.rcParams['font.family'] = ['Liberation Sans', 'DejaVu Sans']
plt.rcParams['axes.unicode_minus'] = False
plt.rcParams['mathtext.fontset'] = 'cm'

fig = plt.figure(figsize=(W / 100, H / 100), dpi=100)
fig.patch.set_facecolor('white')

for i, pts in enumerate(datasets):
    row = i // 3
    df = pd.DataFrame(pts, columns=['x', 'y', 'phi'])
    lo, hi = phi_limits[row]

    ax = fig.add_axes(box(*axes_px[i]))
    sns.scatterplot(data=df, x='x', y='y', hue='phi', palette='hsv',
                    hue_norm=(lo, hi), s=10, linewidth=0, legend=False, ax=ax)

    ax.set_xlim(*x_limits[i])
    ax.set_ylim(*y_limits[i])
    ax.xaxis.set_major_locator(FixedLocator(x_breaks[i]))
    ax.yaxis.set_major_locator(FixedLocator(y_breaks[i]))
    ax.xaxis.set_major_formatter(FormatStrFormatter(x_fmt[i]))
    ax.yaxis.set_major_formatter(FormatStrFormatter(y_fmt[i]))
    ax.xaxis.set_minor_locator(AutoMinorLocator(2))
    ax.yaxis.set_minor_locator(AutoMinorLocator(2))

    ax.set_facecolor('white')
    ax.grid(which='major', color='#EBEBEB', linewidth=0.6)
    ax.grid(which='minor', color='#F4F4F4', linewidth=0.4)
    ax.set_axisbelow(True)
    for sp in ax.spines.values():
        sp.set_visible(True)
        sp.set_color('#A6A6A6')
        sp.set_linewidth(0.7)

    ax.tick_params(which='major', length=2, width=0.5, color='#8C8C8C',
                   labelsize=5, labelcolor='#4D4D4D', pad=1.5,
                   bottom=True, left=True)
    ax.tick_params(which='minor', length=0)
    ax.set_xlabel('1st Eigenvector', fontsize=6.5, color='#222222', labelpad=0.5)
    ax.set_ylabel('2nd Eigenvector', fontsize=6.5, color='#222222', labelpad=1)

    # colourbar for phi
    cax = fig.add_axes(box(*cbar_px[i]))
    sm = ScalarMappable(norm=Normalize(lo, hi), cmap='hsv')
    cb = fig.colorbar(sm, cax=cax)
    cb.outline.set_visible(False)
    cb.set_ticks(phi_breaks[row])
    cb.ax.yaxis.set_major_formatter(FormatStrFormatter(phi_fmt[row]))
    cax.tick_params(length=2.5, width=0.5, direction='in', color='white',
                    labelsize=5, labelcolor='#4D4D4D', pad=2)
    cax.set_title('phi', fontsize=6.5, loc='left', pad=3, color='#222222')

# column and row titles
col_x = [200, 484, 763]
for x, t, fs in zip(col_x, col_titles, col_sizes):
    fig.text(x / W, 1 - 32 / H, t, ha='center', va='baseline',
             family='cmr10', fontsize=fs)

row_y = [152, 392, 620]
for y, t in zip(row_y, row_titles):
    fig.text(21 / W, 1 - y / H, t, ha='center', va='center', rotation=90,
             family='cmr10', fontsize=17)

plt.savefig('out.png', dpi=100, facecolor='white')
plt.close()
